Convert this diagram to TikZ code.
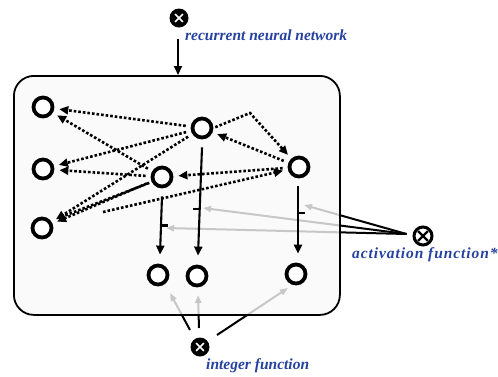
\documentclass[tikz,border=0pt]{standalone}
\usepackage{fontspec}
\setmainfont{Liberation Serif}
\usetikzlibrary{arrows.meta,calc}
\definecolor{labelblue}{RGB}{38,66,160}
\tikzset{
  neuron/.style={circle,draw,line width=3.8pt,fill=white,minimum size=19pt,inner sep=0pt},
  opblack/.style={circle,fill=black,minimum size=19pt,inner sep=0pt,
    path picture={\draw[white,line width=1.6pt]
      ([shift={(45:5.5pt)}]path picture bounding box.center) -- ([shift={(225:5.5pt)}]path picture bounding box.center)
      ([shift={(135:5.5pt)}]path picture bounding box.center) -- ([shift={(315:5.5pt)}]path picture bounding box.center);}},
  opring/.style={circle,draw,line width=3pt,fill=white,minimum size=18pt,inner sep=0pt,
    path picture={\draw[black,line width=2.2pt]
      ([shift={(45:7pt)}]path picture bounding box.center) -- ([shift={(225:7pt)}]path picture bounding box.center)
      ([shift={(135:7pt)}]path picture bounding box.center) -- ([shift={(315:7pt)}]path picture bounding box.center);}},
  tip/.style={-{Triangle[length=9pt,width=8pt]}},
  dotlink/.style={tip,line width=2.6pt,dash pattern=on 2.6pt off 2pt,shorten >=5pt,shorten <=5pt},
  solidlink/.style={tip,line width=2.1pt},
  controllink/.style={-{Triangle[length=8pt,width=6pt]},line width=2pt},
  barmark/.style={line width=2.1pt},
  label/.style={text=labelblue,font=\fontsize{15.5}{15.5}\selectfont\bfseries\itshape,inner sep=0pt},
  netbox/.style={draw,line width=1.8pt,rounded corners=20pt,fill=gray!5,fill opacity=0.8}
}
\begin{document}
\begin{tikzpicture}[x=1pt,y=-1pt]
\useasboundingbox (0,0) rectangle (498,376);

% operator symbols and their labels
\node[opblack] (rnn) at (179,18) {};
\node[label,anchor=base west] (rnnlab) at (185,40) {recurrent neural network};
\node[opring] (act) at (423,236) {};
\node[label,anchor=base west] (actlab) at (352,258) {\addfontfeature{LetterSpace=6}activation function*};
\node[opblack] (int) at (200,347) {};
\node[label,anchor=base west] (intlab) at (206,369) {integer function};

% targets of the control arrows (on the vertical links)
\coordinate (aR) at (304,205);
\coordinate (aT) at (203,208);
\coordinate (aM) at (166,228);
\coordinate (iB1) at (170,293);
\coordinate (iB2) at (198,295);
\coordinate (iB3) at (288,288);

% control arrows, drawn first so the box tints their inner parts
\draw[controllink] (act.west) ++(-6,-2) coordinate (a0) -- (aR);
\draw[controllink] (a0) -- (aT);
\draw[controllink] (a0) -- (aM);
\draw[controllink] ($(int)+(-10,-17)$) -- (iB1);
\draw[controllink] ($(int)+(-1,-19)$) -- (iB2);
\draw[controllink] ($(int)+(17,-12)$) -- (iB3);

% network box
\node[netbox,minimum width=326pt,minimum height=239pt,anchor=north west] (box) at (13,75) {};
\draw[solidlink] (rnn.south) ++(-1,11) -- (box.north -| 178,0);

% neurons
\node[neuron] (L1) at (43,107) {};
\node[neuron] (L2) at (43,169) {};
\node[neuron] (L3) at (42,228) {};
\node[neuron] (T) at (202,128) {};
\node[neuron] (M) at (162,177) {};
\node[neuron] (R) at (299,167) {};
\node[neuron] (B1) at (158,275) {};
\node[neuron] (B2) at (197,276) {};
\node[neuron] (B3) at (296,274) {};
\coordinate (tail) at (103,212);

% dotted recurrent links
\draw[dotlink] (T) -- (L1);
\draw[dotlink] (T) -- (L2);
\draw[dotlink] (T) -- (L3);
\draw[dotlink] (M) -- (L1);
\draw[dotlink] (M) -- (L2);
\draw[dotlink] (M) -- (L3);
\draw[dotlink,-] ([yshift=4pt]M.south west) -- ([yshift=5pt]$(L3)+(14,-4)$);
\draw[dotlink] (R) -- (M);
\draw[dotlink] (R) -- (T);
\draw[dotlink,shorten <=2pt] (T.east) -- (250,113) -- (R);
\draw[dotlink,shorten <=0pt] (tail) -- (R);

% solid output links with their bars
\draw[solidlink] (T.south) ++(0,8) -- coordinate[pos=0.57] (bT) ($(B2.north)+(1,-9)$);
\draw[barmark] (bT) -- ++(-7,0);
\draw[solidlink] (M.south) ++(0,8) -- coordinate[pos=0.5] (bM) ($(B1.north)+(2,-9)$);
\draw[barmark] (bM) -- ++(7,0);
\draw[solidlink] (R.south) ++(-1,8) -- coordinate[pos=0.4] (bR) ($(B3.north)+(2,-9)$);
\draw[barmark] (bR) -- ++(7,0);
\end{tikzpicture}
\end{document}
